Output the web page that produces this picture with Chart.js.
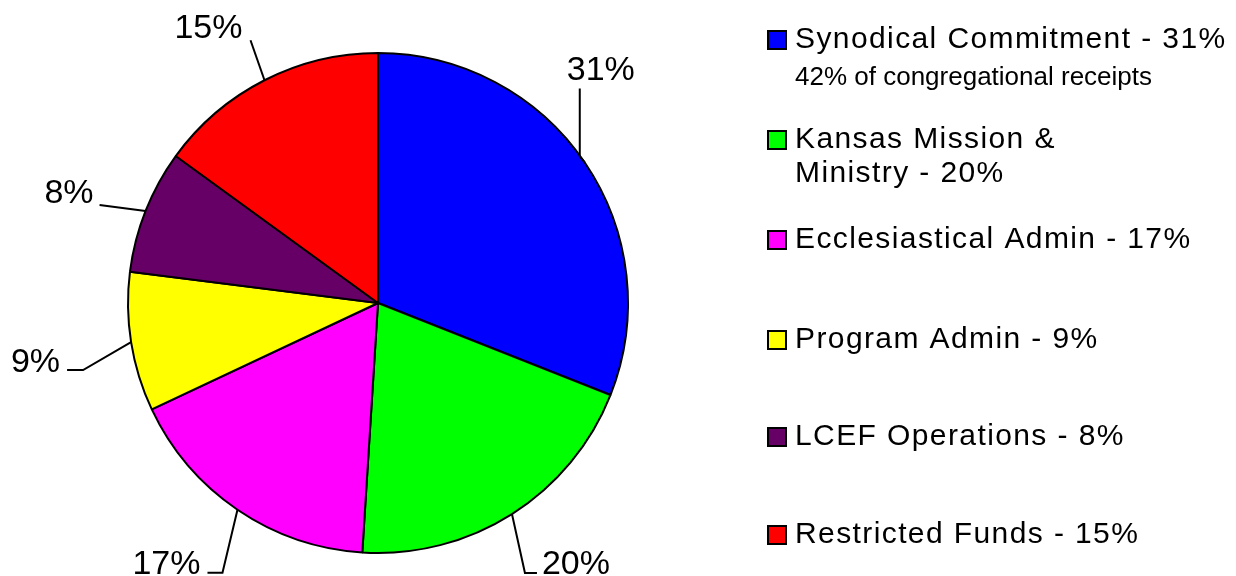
<!DOCTYPE html>
<html lang="en">
<head>
    <meta charset="UTF-8">
    <title>Budget Distribution</title>
    <script src="https://cdn.jsdelivr.net/npm/chart.js"></script>
    <style>
        body { margin: 0; background: #fff; }
        .chart-container { width: 1236px; height: 576px; position: relative; }
    </style>
</head>
<body>
    <div class="chart-container">
        <canvas id="pieChart"></canvas>
    </div>

    <script>
        const categories = ['Synodical Commitment', 'Kansas Mission &\nMinistry', 'Ecclesiastical Admin', 'Program Admin', 'LCEF Operations', 'Restricted Funds'];
        const shares = [31, 20, 17, 9, 8, 15];
        const notes = ['42% of congregational receipts', '', '', '', '', ''];
        const colors = ['#0000ff', '#00ff00', '#ff00ff', '#ffff00', '#660066', '#ff0000'];

        // leader line bends, relative to the point on the rim at each slice's middle
        const leaders = [
            { pts: [[-5, -6], [-5, -74]], label: [21, -8], align: 'center' },
            { pts: [[13, 59], [25, 59]], label: [5, 1], align: 'left' },
            { pts: [[-15, 63], [-30, 63]], label: [-7, 1], align: 'right' },
            { pts: [[-48, 28], [-64, 28]], label: [-7, 2], align: 'right' },
            { pts: [[-46, -6]], label: [-6, -2], align: 'right' },
            { pts: [[-14, -40]], label: [-8, -2], align: 'right' }
        ];

        // legend rows: baseline of first line
        const legendRows = [48, 148, 248, 348, 445, 543];

        const sliceLabels = {
            id: 'sliceLabels',
            afterDatasetsDraw(chart) {
                const ctx = chart.ctx;
                const meta = chart.getDatasetMeta(0);
                ctx.save();
                ctx.strokeStyle = '#000';
                ctx.lineWidth = 2;
                ctx.fillStyle = '#000';
                ctx.font = '34px "Liberation Sans", Arial, sans-serif';
                ctx.textBaseline = 'alphabetic';
                meta.data.forEach((arc, i) => {
                    const mid = (arc.startAngle + arc.endAngle) / 2;
                    const x0 = arc.x + Math.cos(mid) * arc.outerRadius;
                    const y0 = arc.y + Math.sin(mid) * arc.outerRadius;
                    const L = leaders[i];
                    ctx.beginPath();
                    ctx.moveTo(x0, y0);
                    let last = [x0, y0];
                    L.pts.forEach(p => {
                        last = [x0 + p[0], y0 + p[1]];
                        ctx.lineTo(last[0], last[1]);
                    });
                    ctx.stroke();
                    ctx.textAlign = L.align;
                    ctx.fillText(shares[i] + '%', last[0] + L.label[0], last[1] + L.label[1]);
                });
                ctx.restore();
            }
        };

        const sideLegend = {
            id: 'sideLegend',
            afterDraw(chart) {
                const ctx = chart.ctx;
                const boxX = 768, textX = 795;
                ctx.save();
                ctx.textAlign = 'left';
                ctx.textBaseline = 'alphabetic';
                categories.forEach((name, i) => {
                    const base = legendRows[i];
                    ctx.fillStyle = colors[i];
                    ctx.fillRect(boxX, base - 17, 18, 18);
                    ctx.strokeStyle = '#000';
                    ctx.lineWidth = 2;
                    ctx.strokeRect(boxX, base - 17, 18, 18);
                    const lines = name.split('\n');
                    lines[lines.length - 1] += ' - ' + shares[i] + '%';
                    ctx.fillStyle = '#000';
                    ctx.font = '30px "Liberation Sans", Arial, sans-serif';
                    ctx.letterSpacing = '1.4px';
                    lines.forEach((ln, k) => {
                        ctx.fillText(ln, textX, base + k * 34);
                    });
                    if (notes[i]) {
                        ctx.font = '26px "Liberation Sans", Arial, sans-serif';
                        ctx.letterSpacing = '0px';
                        ctx.fillText(notes[i], textX, base + 37);
                    }
                });
                ctx.restore();
            }
        };

        const ctx = document.getElementById('pieChart').getContext('2d');
        const pieChart = new Chart(ctx, {
            type: 'pie',
            data: {
                labels: categories.map(c => c.replace('\n', ' ')),
                datasets: [{
                    data: shares,
                    backgroundColor: colors,
                    borderColor: '#000',
                    borderWidth: 2
                }]
            },
            options: {
                responsive: true,
                maintainAspectRatio: false,
                animation: false,
                layout: {
                    padding: { left: 127, top: 52, right: 607, bottom: 22 }
                },
                plugins: {
                    legend: { display: false },
                    tooltip: { enabled: false }
                }
            },
            plugins: [sliceLabels, sideLegend]
        });
    </script>
</body>
</html>
